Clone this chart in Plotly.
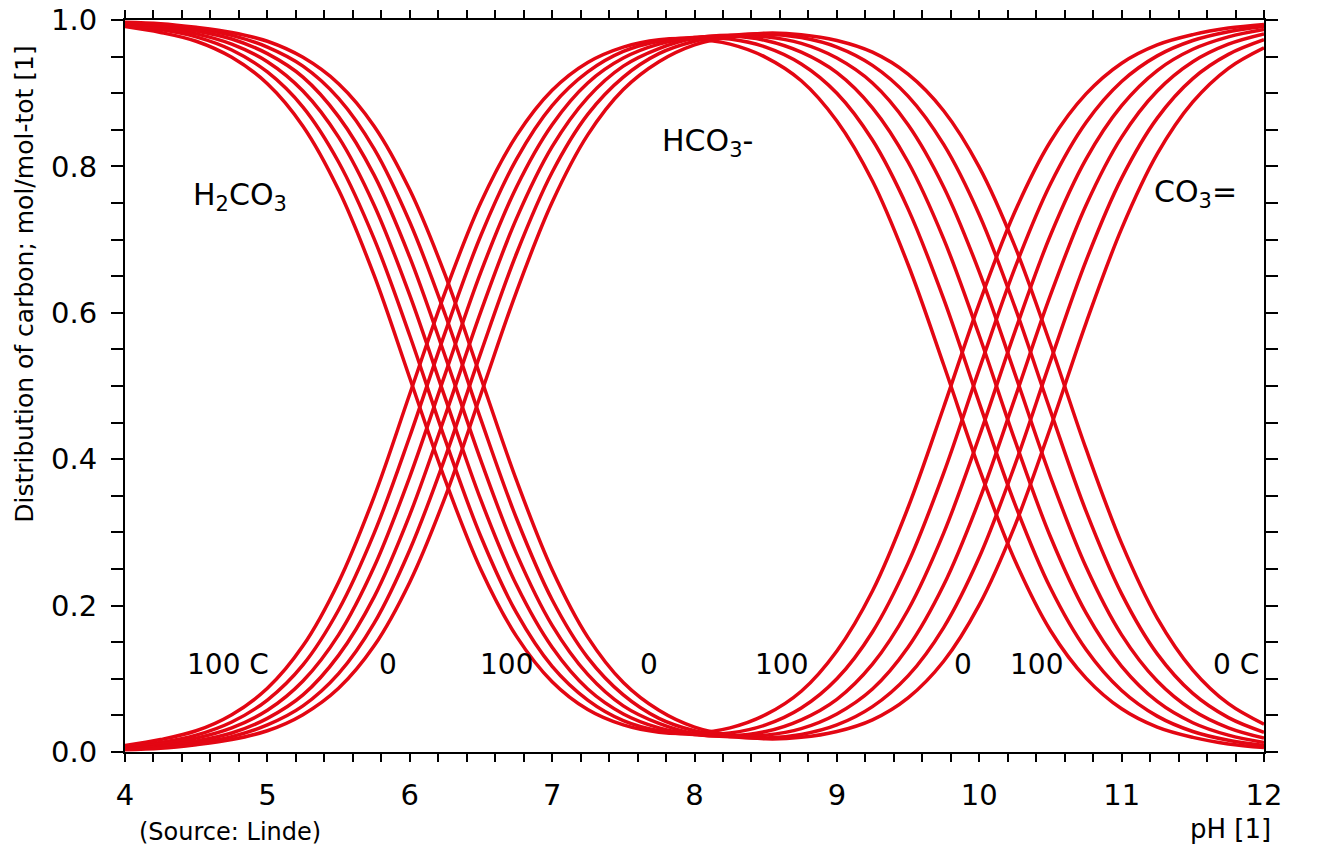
import plotly.graph_objects as go

# pH grid shared by every curve
ph = [4.0, 4.25, 4.5, 4.75, 5.0, 5.25, 5.5, 5.75, 6.0, 6.25, 6.5, 6.75,
      7.0, 7.25, 7.5, 7.75, 8.0, 8.25, 8.5, 8.75, 9.0, 9.25, 9.5, 9.75,
      10.0, 10.25, 10.5, 10.75, 11.0, 11.25, 11.5, 11.75, 12.0]

temps = ["100 C", "80 C", "60 C", "40 C", "20 C", "0 C"]

# HCO3- fraction (rises from left, falls to the right)
hco3_100 = [0.009, 0.017, 0.029, 0.051, 0.087, 0.145, 0.232, 0.349, 0.489, 0.629, 0.751, 0.842,
            0.904, 0.942, 0.963, 0.973, 0.974, 0.967, 0.949, 0.917, 0.862, 0.780, 0.666, 0.529,
            0.387, 0.262, 0.166, 0.101, 0.059, 0.034, 0.020, 0.011, 0.006]
hco3_80 = [0.008, 0.013, 0.023, 0.041, 0.071, 0.119, 0.194, 0.299, 0.431, 0.574, 0.706, 0.810,
           0.883, 0.929, 0.957, 0.971, 0.976, 0.974, 0.963, 0.940, 0.900, 0.836, 0.742, 0.619,
           0.477, 0.339, 0.224, 0.140, 0.084, 0.049, 0.028, 0.016, 0.009]
hco3_60 = [0.006, 0.011, 0.019, 0.033, 0.057, 0.097, 0.160, 0.253, 0.376, 0.517, 0.656, 0.772,
           0.857, 0.914, 0.948, 0.967, 0.976, 0.978, 0.972, 0.956, 0.928, 0.880, 0.806, 0.701,
           0.569, 0.426, 0.294, 0.190, 0.117, 0.069, 0.040, 0.023, 0.013]
hco3_40 = [0.005, 0.008, 0.015, 0.026, 0.046, 0.078, 0.132, 0.212, 0.324, 0.460, 0.602, 0.729,
           0.827, 0.894, 0.937, 0.961, 0.975, 0.979, 0.977, 0.968, 0.948, 0.914, 0.857, 0.772,
           0.656, 0.517, 0.376, 0.253, 0.160, 0.097, 0.057, 0.033, 0.019]
hco3_20 = [0.004, 0.007, 0.012, 0.021, 0.037, 0.063, 0.107, 0.176, 0.276, 0.403, 0.546, 0.681,
           0.792, 0.871, 0.922, 0.954, 0.971, 0.979, 0.981, 0.976, 0.963, 0.938, 0.896, 0.830,
           0.734, 0.608, 0.466, 0.329, 0.216, 0.134, 0.080, 0.047, 0.027]
hco3_0 = [0.003, 0.005, 0.010, 0.017, 0.029, 0.051, 0.087, 0.145, 0.232, 0.349, 0.489, 0.629,
          0.751, 0.843, 0.905, 0.943, 0.966, 0.977, 0.982, 0.980, 0.972, 0.956, 0.926, 0.876,
          0.799, 0.691, 0.557, 0.414, 0.285, 0.183, 0.112, 0.066, 0.038]

# H2CO3 on the left running into CO3= on the right
h2co3_co3_100 = [0.991, 0.983, 0.971, 0.949, 0.913, 0.855, 0.768, 0.651, 0.511, 0.371, 0.249, 0.158,
                 0.096, 0.058, 0.037, 0.027, 0.026, 0.033, 0.051, 0.083, 0.138, 0.220, 0.334, 0.471,
                 0.613, 0.738, 0.834, 0.899, 0.941, 0.966, 0.980, 0.989, 0.994]
h2co3_co3_80 = [0.992, 0.987, 0.977, 0.959, 0.929, 0.881, 0.806, 0.701, 0.569, 0.426, 0.294, 0.190,
                0.117, 0.071, 0.043, 0.029, 0.024, 0.026, 0.037, 0.060, 0.100, 0.164, 0.258, 0.381,
                0.523, 0.661, 0.776, 0.860, 0.916, 0.951, 0.972, 0.984, 0.991]
h2co3_co3_60 = [0.994, 0.989, 0.981, 0.967, 0.943, 0.903, 0.840, 0.747, 0.624, 0.483, 0.344, 0.228,
                0.143, 0.086, 0.052, 0.033, 0.024, 0.022, 0.028, 0.044, 0.072, 0.120, 0.194, 0.299,
                0.431, 0.574, 0.706, 0.810, 0.883, 0.931, 0.960, 0.977, 0.987]
h2co3_co3_40 = [0.995, 0.992, 0.985, 0.974, 0.954, 0.922, 0.868, 0.788, 0.676, 0.540, 0.398, 0.271,
                0.173, 0.106, 0.063, 0.039, 0.025, 0.021, 0.023, 0.032, 0.052, 0.086, 0.143, 0.228,
                0.344, 0.483, 0.624, 0.747, 0.840, 0.903, 0.943, 0.967, 0.981]
h2co3_co3_20 = [0.996, 0.993, 0.988, 0.979, 0.963, 0.937, 0.893, 0.824, 0.724, 0.597, 0.454, 0.319,
                0.208, 0.129, 0.078, 0.046, 0.029, 0.021, 0.019, 0.024, 0.037, 0.062, 0.104, 0.170,
                0.266, 0.392, 0.534, 0.671, 0.784, 0.866, 0.920, 0.953, 0.973]
h2co3_co3_0 = [0.997, 0.995, 0.990, 0.983, 0.971, 0.949, 0.913, 0.855, 0.768, 0.651, 0.511, 0.371,
               0.249, 0.157, 0.095, 0.057, 0.034, 0.023, 0.018, 0.020, 0.028, 0.044, 0.074, 0.124,
               0.201, 0.309, 0.443, 0.586, 0.715, 0.817, 0.888, 0.934, 0.962]

hco3_sets = [hco3_100, hco3_80, hco3_60, hco3_40, hco3_20, hco3_0]
other_sets = [h2co3_co3_100, h2co3_co3_80, h2co3_co3_60, h2co3_co3_40, h2co3_co3_20, h2co3_co3_0]

# species labels and temperature labels inside the plot
species_labels = [("H<sub>2</sub>CO<sub>3</sub>", 4.81, 0.759),
                  ("HCO<sub>3</sub>-", 8.09, 0.833),
                  ("CO<sub>3</sub>=", 11.52, 0.763)]
temp_labels = [("100 C", 4.72), ("0", 5.85), ("100", 6.68), ("0", 7.68),
               ("100", 8.61), ("0", 9.885), ("100", 10.40), ("0 C", 11.80)]
temp_label_y = 0.12

RED = "#e30613"
FONT = "DejaVu Sans"

fig = go.Figure()
for name, hco3, other in zip(temps, hco3_sets, other_sets):
    fig.add_trace(go.Scatter(x=ph, y=hco3, mode="lines", name=name,
                             line=dict(color=RED, width=3.5, shape="spline")))
    fig.add_trace(go.Scatter(x=ph, y=other, mode="lines", name=name,
                             line=dict(color=RED, width=3.5, shape="spline")))

annotations = []
for text, x, y in species_labels:
    annotations.append(dict(x=x, y=y, text=text, showarrow=False,
                            xanchor="center", yanchor="middle",
                            font=dict(size=30, color="black", family=FONT)))
for text, x in temp_labels:
    annotations.append(dict(x=x, y=temp_label_y, text=text, showarrow=False,
                            xanchor="center", yanchor="middle",
                            font=dict(size=28, color="black", family=FONT)))

# axis titles and source note sit in paper coordinates
annotations.append(dict(xref="paper", yref="paper", x=-0.0882, y=0.639,
                        xanchor="center", yanchor="middle",
                        text="Distribution of carbon; mol/mol-tot [1]", textangle=-90,
                        showarrow=False, font=dict(size=25, color="black", family=FONT)))
annotations.append(dict(xref="paper", yref="paper", x=0.0922, y=-0.1087,
                        xanchor="center", yanchor="middle",
                        text="(Source: Linde)", showarrow=False,
                        font=dict(size=24, color="black", family=FONT)))
annotations.append(dict(xref="paper", yref="paper", x=1.0079, y=-0.1046,
                        xanchor="right", yanchor="middle",
                        text="pH [1]", showarrow=False,
                        font=dict(size=26, color="black", family=FONT)))

axis_common = dict(showline=True, linecolor="black", linewidth=2, mirror="ticks",
                   ticks="outside", tickcolor="black", tickwidth=1.5,
                   showgrid=False, zeroline=False, automargin=False,
                   ticklabeloverflow="allow",
                   tickfont=dict(size=29, color="black", family=FONT))

fig.update_layout(
    width=1319, height=868,
    margin=dict(l=117, r=63, t=12, b=124),
    plot_bgcolor="white", paper_bgcolor="white",
    showlegend=False,
    font=dict(family=FONT, color="black"),
    annotations=annotations,
    xaxis=dict(range=[4, 12], dtick=1, ticklen=8, ticklabelstandoff=8,
               minor=dict(dtick=0.2, ticks="outside", ticklen=8, tickcolor="black", tickwidth=1.5),
               **axis_common),
    yaxis=dict(range=[0, 1], dtick=0.2, tickformat=".1f", ticklen=12, ticklabelstandoff=8,
               minor=dict(dtick=0.05, ticks="outside", ticklen=12, tickcolor="black", tickwidth=1.5),
               **axis_common),
)

fig.write_html("out.html")
